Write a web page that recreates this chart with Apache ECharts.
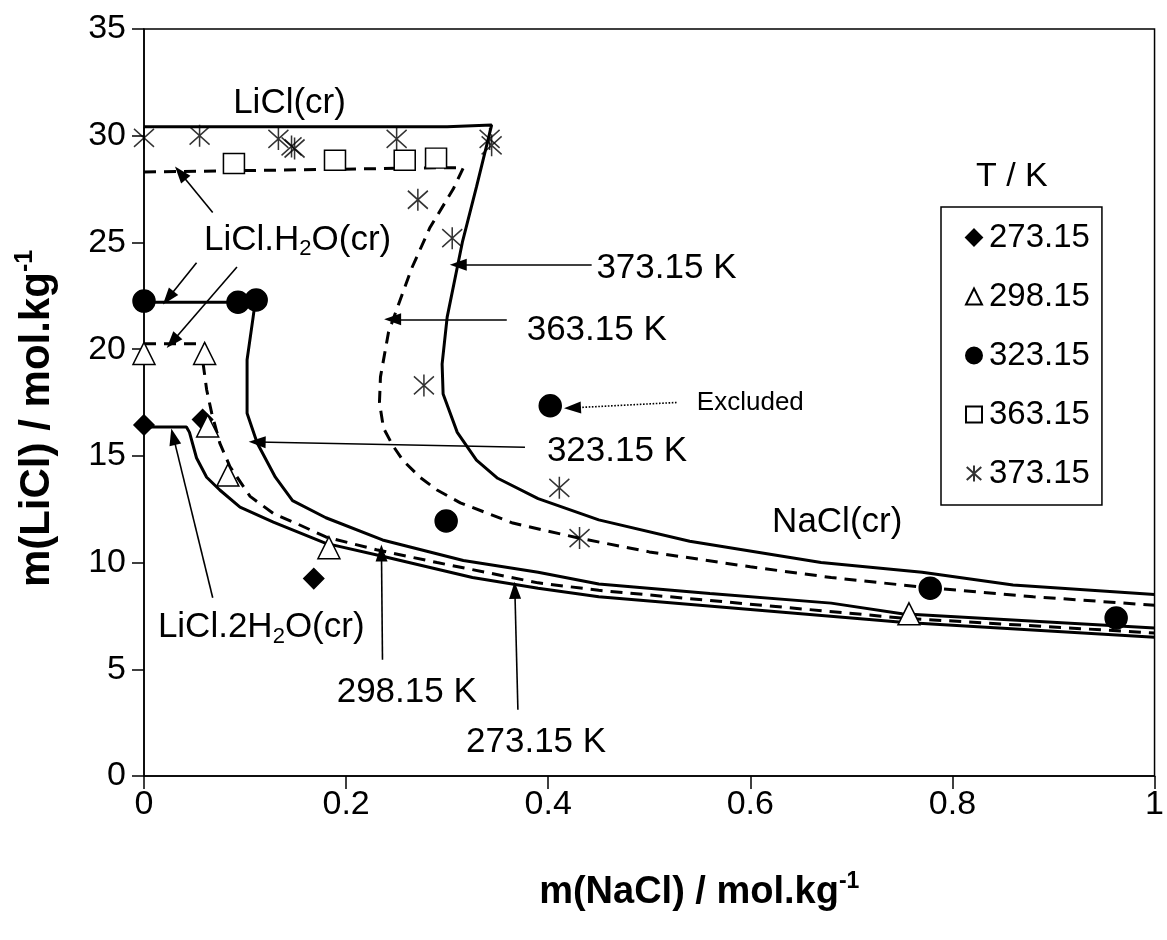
<!DOCTYPE html>
<html>
<head>
<meta charset="utf-8">
<script src="https://cdn.jsdelivr.net/npm/echarts@6/dist/echarts.min.js"></script>
<style>
  html, body { margin: 0; padding: 0; background: #fff; }
  #chart { width: 1167px; height: 940px; }
</style>
</head>
<body>
<div id="chart"></div>
<script>
// measured points [m(NaCl), m(LiCl)]
const pts273 = [[0, 16.45], [0.058, 16.7], [0.168, 9.25]]
const pts298 = [[0, 19.8], [0.06, 19.8], [0.063, 16.4], [0.083, 14.1], [0.183, 10.7], [0.757, 7.6]]
const pts323 = [[0, 22.25], [0.093, 22.2], [0.111, 22.3], [0.402, 17.35], [0.299, 11.95], [0.778, 8.8], [0.962, 7.4]]
const pts363 = [[0.089, 28.7], [0.189, 28.85], [0.258, 28.85], [0.289, 28.95]]
const pts373 = [[0, 29.9], [0.055, 30.0], [0.133, 29.85], [0.146, 29.5], [0.149, 29.4], [0.25, 29.85],
  [0.342, 29.85], [0.344, 29.55], [0.271, 27.0], [0.305, 25.2], [0.277, 18.3], [0.411, 13.5], [0.431, 11.15]]

// model curves
const line273 = [[0, 16.35], [0.042, 16.35], [0.045, 16.1], [0.052, 14.9], [0.062, 14.0], [0.075, 13.4],
  [0.095, 12.6], [0.128, 11.9], [0.18, 10.9], [0.236, 10.3], [0.325, 9.3], [0.39, 8.8], [0.45, 8.4],
  [0.75, 7.2], [1.0, 6.5]]
const line298 = [[0, 20.25], [0.06, 20.25], [0.058, 19.5], [0.062, 18.1], [0.067, 17.0], [0.075, 15.6],
  [0.085, 14.5], [0.105, 13.1], [0.128, 12.3], [0.15, 11.85], [0.18, 11.2], [0.23, 10.6], [0.29, 10.0],
  [0.39, 9.05], [0.45, 8.7], [0.75, 7.4], [1.0, 6.7]]
const line323 = [[0, 22.2], [0.11, 22.2], [0.108, 21.5], [0.102, 19.5], [0.102, 17.0], [0.112, 15.6],
  [0.13, 14.0], [0.147, 12.9], [0.18, 12.1], [0.236, 11.06], [0.316, 10.1], [0.39, 9.55], [0.45, 9.0],
  [0.56, 8.55], [0.68, 8.1], [0.75, 7.6], [1.0, 6.93]]
const line363 = [[0, 28.3], [0.15, 28.4], [0.29, 28.5], [0.316, 28.5], [0.306, 27.5], [0.283, 25.7],
  [0.265, 23.8], [0.255, 22.5], [0.242, 20.8], [0.234, 18.7], [0.233, 17.5], [0.237, 16.3], [0.246, 15.5],
  [0.256, 14.8], [0.273, 14.0], [0.29, 13.4], [0.313, 12.8], [0.365, 11.85], [0.43, 11.15], [0.5, 10.5],
  [0.6, 9.8], [0.68, 9.3], [0.77, 8.85], [0.88, 8.4], [1.0, 8.0]]
const line373 = [[0, 30.42], [0.3, 30.42], [0.344, 30.5], [0.329, 27.6], [0.315, 25.0], [0.3, 21.5],
  [0.295, 19.3], [0.296, 17.9], [0.31, 16.1], [0.329, 14.8], [0.35, 13.95], [0.39, 13.0], [0.45, 12.0],
  [0.54, 11.0], [0.67, 10.0], [0.77, 9.55], [0.86, 8.95], [1.0, 8.5]]

// annotations: text and arrows (x1, y1 -> x2, y2)
const noteText = ['LiCl(cr)', 'LiCl.H{sub|2}O(cr)', 'LiCl.2H{sub|2}O(cr)', '298.15 K', '273.15 K',
  '323.15 K', '363.15 K', '373.15 K', 'NaCl(cr)', 'Excluded']
const notePos = [[0.144, 31.5], [0.152, 25.1], [0.116, 6.95], [0.26, 3.9], [0.388, 1.6],
  [0.468, 15.2], [0.448, 20.9], [0.517, 23.8], [0.686, 11.9], [0.6, 17.5]]
const noteSize = [35, 35, 35, 35, 35, 35, 35, 35, 35, 26]
const arrows = [[0.068, 26.4, 0.036, 28.25], [0.052, 24.05, 0.024, 22.4], [0.092, 23.85, 0.028, 20.35],
  [0.068, 8.35, 0.029, 15.9], [0.236, 5.45, 0.235, 10.45], [0.37, 3.1, 0.367, 8.7],
  [0.377, 15.4, 0.112, 15.65], [0.359, 21.4, 0.246, 21.4], [0.443, 23.95, 0.311, 23.95]]
const excludedArrow = [0.527, 17.5, 0.424, 17.25]

const font = 'Liberation Sans, Arial, sans-serif'
const starPath = 'path://M11,0L11,22M1,2L21,20M1,20L21,2'

const chart = echarts.init(document.getElementById('chart'))

const curve = (data, dashed) => ({
  type: 'line', data: data, showSymbol: false, symbol: 'none', silent: true, z: 2,
  lineStyle: { color: '#000', width: 3, type: dashed ? [12, 8] : 'solid' }
})

const points = (name, data, symbol, size, filled) => ({
  name: name, type: 'scatter', data: data, symbol: symbol, symbolSize: size, z: 5,
  itemStyle: { color: filled ? '#000' : '#fff', borderColor: '#000', borderWidth: 1.5, opacity: 1 }
})

const titleRich = size => ({
  t: { fontFamily: font, fontSize: size, fontWeight: 'bold', color: '#000', lineHeight: size + 7 },
  sup: { fontFamily: font, fontSize: Math.round(size * 0.6), fontWeight: 'bold', color: '#000', lineHeight: 16, verticalAlign: 'top' }
})

const option = {
  backgroundColor: '#fff',
  animation: false,
  textStyle: { fontFamily: font, color: '#000' },
  grid: { left: 144, right: 12, top: 29, bottom: 164, show: true, borderColor: '#000', borderWidth: 1.5 },
  xAxis: {
    type: 'value', min: 0, max: 1, interval: 0.2,
    name: '{t|m(NaCl) / mol.kg}{sup|-1}', nameLocation: 'middle', nameGap: 94,
    nameTextStyle: { rich: titleRich(38), padding: [0, 0, 0, 100] },
    axisLine: { lineStyle: { color: '#000', width: 1.5 } },
    axisTick: { inside: false, length: 13, lineStyle: { color: '#000', width: 1.5 } },
    axisLabel: { fontSize: 34, color: '#000', margin: 12, fontFamily: font },
    splitLine: { show: false }
  },
  yAxis: {
    type: 'value', min: 0, max: 35, interval: 5,
    name: '{t|m(LiCl) / mol.kg}{sup|-1}', nameLocation: 'middle', nameGap: 82, nameRotate: 90,
    nameTextStyle: { rich: titleRich(42), padding: [0, 32, 0, 0] },
    axisLine: { lineStyle: { color: '#000', width: 1.5 } },
    axisTick: { inside: false, length: 12, lineStyle: { color: '#000', width: 1.5 } },
    axisLabel: { fontSize: 34, color: '#000', margin: 18, fontFamily: font },
    splitLine: { show: false }
  },
  legend: {
    data: ['273.15', '298.15', '323.15', '363.15', '373.15'],
    orient: 'vertical', left: 941, top: 207,
    padding: [14, 12, 15, 24], itemGap: 26, itemWidth: 16, itemHeight: 16,
    borderColor: '#000', borderWidth: 1.5, backgroundColor: '#fff',
    textStyle: { fontSize: 33, color: '#000', fontFamily: font, padding: [0, 0, 0, 2] }
  },
  graphic: [{
    type: 'text', left: 976, top: 160,
    style: { text: 'T / K', font: '34px ' + font, fill: '#000' }
  }],
  series: [
    curve(line273, false), curve(line298, true), curve(line323, false), curve(line363, true), curve(line373, false),
    points('273.15', pts273, 'diamond', 20, true),
    points('298.15', pts298, 'triangle', 22, false),
    points('323.15', pts323, 'circle', 22, true),
    points('363.15', pts363, 'rect', [21, 20], false),
    Object.assign(points('373.15', pts373, starPath, [20, 22], false), {
      itemStyle: { color: 'rgba(0,0,0,0)', borderColor: '#000', borderWidth: 1.6 }
    }),
    {
      // annotation texts, placed through the axes
      type: 'custom', silent: true, z: 6,
      data: notePos.map((p, i) => [p[0], p[1], i]),
      renderItem: (params, api) => {
        const i = api.value(2)
        const pt = api.coord([api.value(0), api.value(1)])
        const s = noteSize[i]
        return {
          type: 'text', x: pt[0], y: pt[1],
          style: {
            text: '{t|' + noteText[i].replace(/\{sub\|2\}/g, '}{sub|2}{t|') + '}',
            align: 'center', verticalAlign: 'middle',
            rich: {
              t: { fontFamily: font, fontSize: s, fill: '#000', lineHeight: 40 },
              sub: { fontFamily: font, fontSize: 22, fill: '#000', lineHeight: 14, verticalAlign: 'bottom' }
            }
          }
        }
      },
      markLine: {
        silent: true, symbol: ['none', 'triangle'], symbolSize: [12, 17], animation: false,
        label: { show: false },
        lineStyle: { color: '#000', width: 1.6, type: 'solid', opacity: 1 },
        data: arrows.map(a => [{ coord: [a[0], a[1]] }, { coord: [a[2], a[3]] }]).concat([
          [{ coord: [excludedArrow[0], excludedArrow[1]], lineStyle: { type: 'dotted', width: 1.6 } },
           { coord: [excludedArrow[2], excludedArrow[3]] }]
        ])
      }
    }
  ]
}

chart.setOption(option)
</script>
</body>
</html>
